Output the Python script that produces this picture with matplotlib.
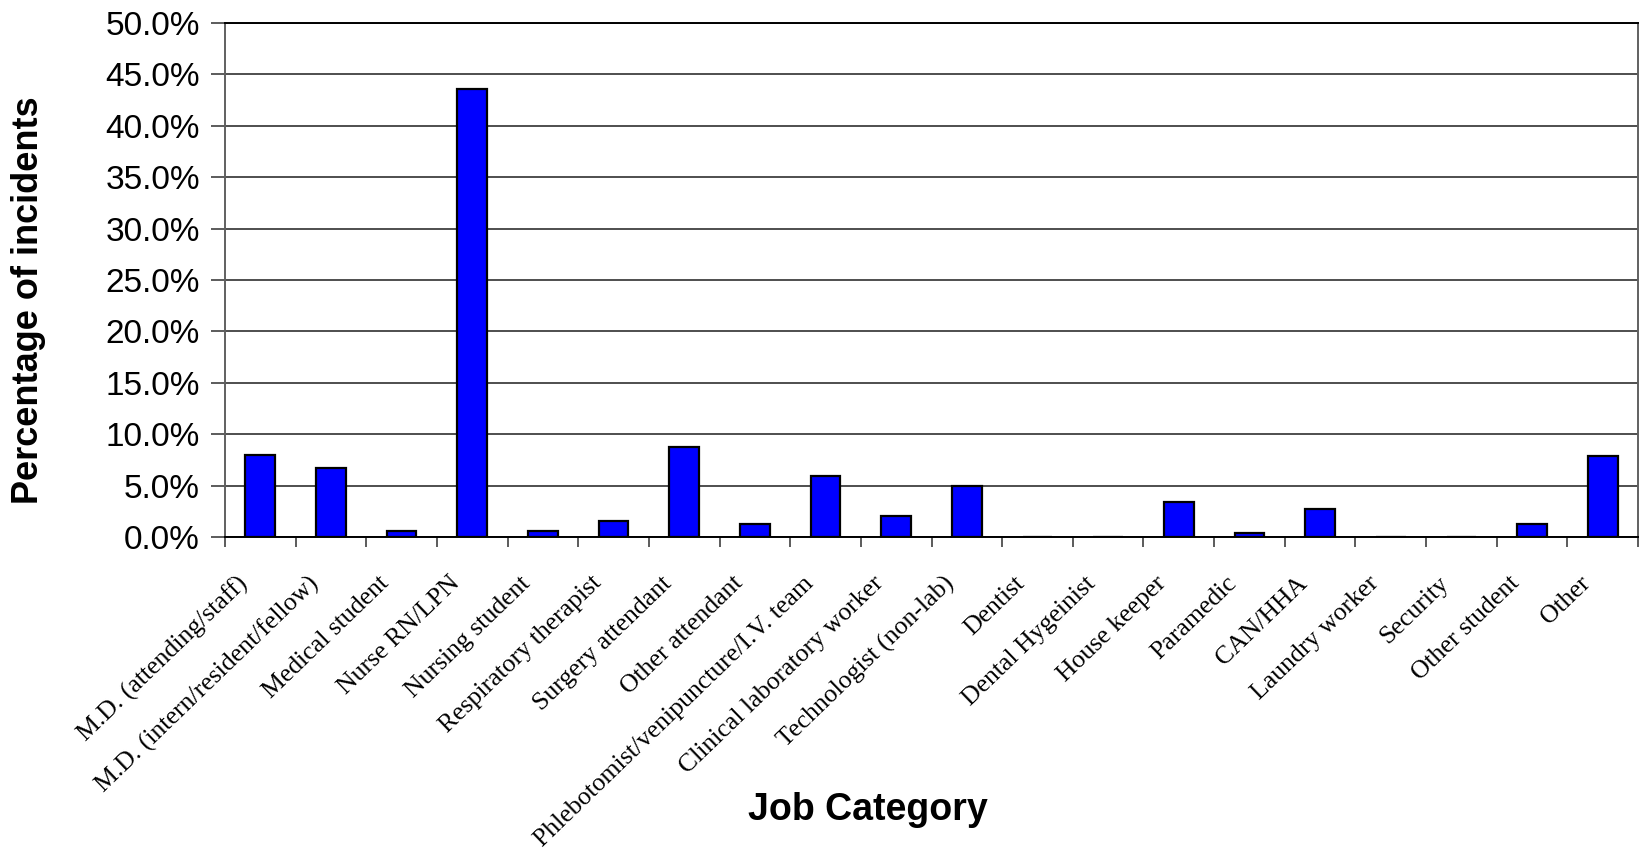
import numpy as np
import matplotlib.pyplot as plt
from matplotlib.ticker import FuncFormatter

categories = ["M.D. (attending/staff)", "M.D. (intern/resident/fellow)", "Medical student",
              "Nurse RN/LPN", "Nursing student", "Respiratory therapist", "Surgery attendant",
              "Other attendant", "Phlebotomist/venipuncture/I.V. team", "Clinical laboratory worker",
              "Technologist (non-lab)", "Dentist", "Dental Hygeinist", "House keeper", "Paramedic",
              "CAN/HHA", "Laundry worker", "Security", "Other student", "Other"]
percent = [8.0, 6.7, 0.6, 43.6, 0.6, 1.6, 8.8, 1.3, 5.9, 2.0,
           5.0, 0.0, 0.0, 3.4, 0.4, 2.7, 0.0, 0.0, 1.3, 7.9]
y_ticks = [0, 5, 10, 15, 20, 25, 30, 35, 40, 45, 50]

fig = plt.figure(figsize=(16.43, 8.58), dpi=100)
ax = fig.add_axes([225 / 1643, 1 - 537 / 858, 1413 / 1643, (537 - 23) / 858])

x = np.arange(len(categories))
ax.bar(x, percent, width=0.42, color="#0000ff", edgecolor="black", linewidth=1.6, zorder=3)

ax.set_xlim(-0.5, len(categories) - 0.5)
ax.set_ylim(0, 50)
ax.set_yticks(y_ticks)
ax.yaxis.set_major_formatter(FuncFormatter(lambda v, p: "%.1f%%" % v))
ax.grid(axis="y", color="#303030", linewidth=1.2, zorder=0)

# category labels (ending a little left of each bar), tick marks at boundaries
ax.set_xticks(x - 0.22)
ax.set_xticklabels(categories, rotation=44, ha="right", va="center", rotation_mode="anchor",
                   fontfamily="Liberation Serif", fontsize=18.5)
ax.set_xticks(np.arange(len(categories) + 1) - 0.5, minor=True)
ax.tick_params(axis="x", which="major", length=0, pad=31)
ax.tick_params(axis="x", which="minor", length=7, width=1.2, color="#404040", direction="out")
ax.tick_params(axis="y", length=10, width=1.2, color="#404040", pad=8)
for lab in ax.get_yticklabels():
    lab.set_fontfamily("Liberation Sans")
    lab.set_fontsize(24)

for s in ["left", "right"]:
    ax.spines[s].set_color("#606060")
    ax.spines[s].set_linewidth(1.4)
for s in ["top", "bottom"]:
    ax.spines[s].set_color("black")
    ax.spines[s].set_linewidth(1.4)

fig.text(29 / 1643, 1 - 300 / 858, "Percentage of incidents", rotation=90, ha="center", va="center",
         fontfamily="Liberation Sans", fontweight="bold", fontsize=26)
fig.text(868 / 1643, 1 - 810 / 858, "Job Category", ha="center", va="center",
         fontfamily="Liberation Sans", fontweight="bold", fontsize=27)

plt.savefig("out.png", dpi=100)
